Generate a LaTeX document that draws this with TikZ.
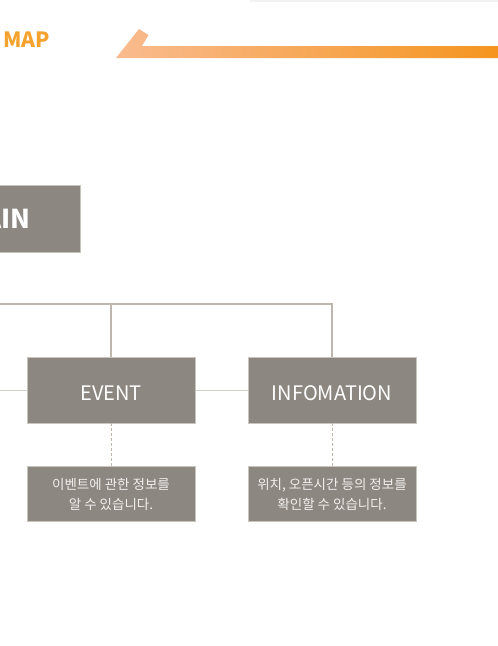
\documentclass[tikz,border=0pt]{standalone}
\usepackage{fontspec}
\setmainfont{Noto Sans CJK KR}
\begin{document}
\begin{tikzpicture}[x=1pt,y=-1pt,
  box/.style={draw=boxline,line width=0.8pt,fill=boxfill,minimum width=168pt,inner sep=0pt,outer sep=0pt},
  headbox/.style={box,minimum height=66pt},
  descbox/.style={box,minimum height=55pt,text=desctext,align=center,font=\fontsize{13.5}{20}\selectfont},
  headtext/.style={text=white,inner sep=0pt,font=\fontsize{20}{24}\selectfont},
  tree/.style={draw=treeline,line width=1.3pt},
  thinlink/.style={draw=thinline,line width=0.8pt},
  dashlink/.style={draw=treeline,line width=0.8pt,dash pattern=on 3pt off 2pt}
]
\definecolor{boxfill}{HTML}{8C8781}
\definecolor{boxline}{HTML}{C8C4BE}
\definecolor{desctext}{HTML}{F2F0EE}
\definecolor{treeline}{HTML}{BEB7AD}
\definecolor{thinline}{HTML}{D2CEC8}
\definecolor{maporange}{HTML}{F6A22E}
\definecolor{barleft}{HTML}{F9BB8F}
\definecolor{barright}{HTML}{F5951F}
\definecolor{topline}{HTML}{F3F3F3}
\useasboundingbox (0,0) rectangle (498,646);
\clip (0,0) rectangle (498,646);
\fill[white] (0,0) rectangle (498,646);
% top faint line
\fill[topline] (250,0) rectangle (498,1.5);
% title
\node[anchor=base west,inner sep=0pt,text=maporange,font=\fontsize{21}{25}\bfseries\selectfont] (maptitle) at (3,47.7) {MAP};
% gradient bar
\shade[left color=barleft,right color=barright]
  (116,58) -- (139,29) -- (148.5,35) -- (142,46) -- (498,46) -- (498,58) -- cycle;
% main box
\node[headbox,minimum height=67pt] (main) at (-4,218.5) {};
\node[text=white,inner sep=0pt,font=\fontsize{26}{30}\bfseries\selectfont] (maintext) at (main.center) {MAIN};
% level boxes
\node[headbox] (event) at (111,390) {};
\node[headbox] (info) at (332,390) {};
\node[headtext] (eventtext) at ([yshift=-3pt]event.center) {EVENT};
\node[headtext] (infotext) at ([yshift=-3pt]info.center) {INFOMATION};
% description boxes
\node[descbox] (eventdesc) at (111,494.2) {이벤트에 관한 정보를\\알 수 있습니다.};
\node[descbox] (infodesc) at (332,494.2) {위치, 오픈시간 등의 정보를\\확인할 수 있습니다.};
% tree connectors
\coordinate (treeleft) at (-2,304);
\coordinate (eventtop) at (111,304);
\coordinate (infotop) at (332,304);
\draw[tree] (treeleft) -- (infotop) -- (info.north);
\draw[tree] (eventtop) -- (event.north);
% thin horizontal links
\coordinate (thinleft) at (-2,390);
\draw[thinlink] (thinleft) -- (event.west);
\draw[thinlink] (event.east) -- (info.west);
% dashed links
\draw[dashlink] (event.south) -- (eventdesc.north);
\draw[dashlink] (info.south) -- (infodesc.north);
\end{tikzpicture}
\end{document}
